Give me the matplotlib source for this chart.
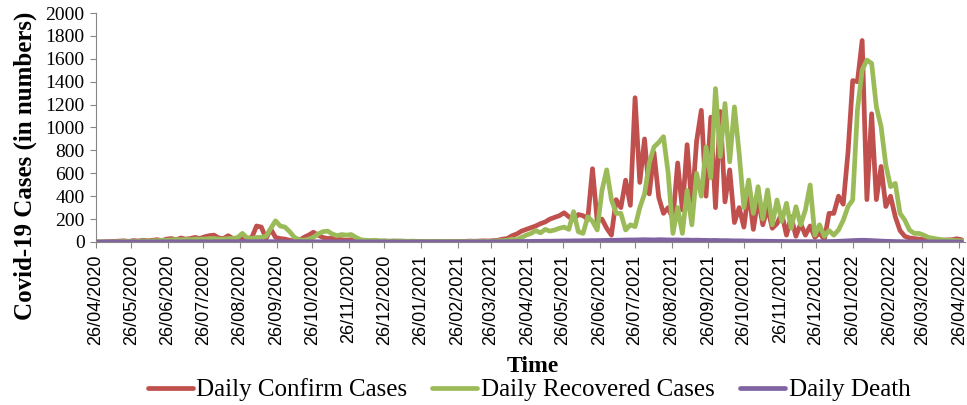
import pandas as pd
import matplotlib
matplotlib.use('Agg')
import matplotlib.pyplot as plt

plt.rcParams['font.family'] = 'Liberation Serif'

# Values, one sample every 4 days from 26/04/2020
start_date = '2020-04-26'
step = '4D'

confirm_cases = [
    0, 0, 2, 3, 5, 8, 10, 5, 12, 8, 15,
    10, 15, 20, 12, 25, 30, 18, 35, 25, 30, 40, 30, 45, 55,
    60, 35, 30, 55, 30, 25, 40, 30, 40, 140, 130, 30, 113, 40, 30, 25, 15, 10, 15, 40,
    60, 85, 60, 40, 30, 35, 25, 20, 15, 20, 10,
    10, 12, 8, 10, 6, 8, 5, 8, 5, 6, 4, 5, 3, 5, 4, 3, 5, 4, 3, 5,
    4, 6, 5, 8, 6, 8, 10, 8, 12, 15,
    25, 30, 55, 70, 95, 110, 125, 140, 160, 175,
    200, 215, 230, 255, 220, 195, 240, 230, 200, 640,
    180, 200, 120, 60, 370, 300, 540, 320, 1260, 520,
    900, 420, 780, 390, 250, 300, 200, 690, 280, 850,
    300, 880, 1150, 400, 1090, 300, 1140, 350, 630, 170,
    300, 130, 450, 110, 380, 150, 300, 120, 160, 250,
    60, 220, 50, 160, 60, 140, 40, 80, 20, 250,
    250, 400, 330, 780, 1410, 1400, 1760, 370, 1120, 370,
    660, 310, 400, 220, 100, 50, 35, 30, 25, 20,
    15, 15, 12, 15, 18, 20, 28, 20,
]

recovered_cases = [
    0, 0, 0, 0, 2, 3, 5, 5, 5, 8, 10, 8,
    10, 12, 15, 15, 18, 20, 20, 22, 20, 25, 25, 25, 30, 30,
    25, 25, 30, 30, 40, 75, 35, 30, 40, 40,
    50, 120, 185, 140, 130, 90, 40, 20, 15, 25,
    40, 70, 90, 95, 70, 55, 65, 60, 65, 40,
    20, 15, 12, 15, 10, 10, 8, 8, 10, 8,
    6, 8, 5, 6, 5, 5, 4, 5, 5, 4,
    4, 5, 4, 5, 5, 5, 5, 6, 8, 10,
    12, 15,
    25, 20, 40, 60, 75, 100, 80, 110, 95, 105,
    120, 130, 110, 265, 90, 75, 220, 180, 105, 450,
    630, 370, 250, 250, 105, 150, 134, 300, 420, 690,
    830, 870, 920, 600, 75, 300, 75, 450, 150, 600,
    400, 830, 560, 1340, 745, 1210, 700, 1180, 774, 300,
    541, 250, 483, 200, 454, 150, 367, 180, 338, 120,
    308, 150, 280, 498, 60, 150, 50, 100, 60, 105,
    190, 308, 367, 1152, 1502, 1589, 1560, 1181, 1007, 672,
    483, 512, 250, 192, 105, 75, 75, 60, 40, 32,
    25, 20, 15, 15, 12, 10,
]

daily_death = [
    0, 0, 0, 0, 0, 0, 0, 0, 1, 0, 1, 1, 0, 1, 1, 1, 2, 1, 1, 2, 2, 1, 2, 2, 1, 2,
    2, 2, 3, 2, 2, 3, 3, 2, 3, 4, 3, 3, 2, 3, 2, 2, 2, 3, 2, 2,
    2, 2, 1, 2, 1, 1, 1, 1, 1, 1, 1, 0, 1, 0, 1, 0, 0, 1, 0, 0,
    0, 0, 1, 0, 0, 0, 0, 0, 0, 0, 0, 0, 1, 0, 1, 1, 1, 1, 2, 2,
    2, 3, 3, 4, 4, 5, 5, 6, 6, 7, 7, 8, 8, 9, 9, 10, 10, 11, 11, 12,
    12, 13, 14, 15, 15, 16, 17, 18, 18, 19, 20, 19, 18, 20, 19, 18, 17, 18, 16, 17,
    15, 16, 15, 14, 13, 14, 12, 12, 11, 10, 10, 9, 8, 8, 7, 7, 6, 6, 5, 5,
    4, 4, 4, 3, 3, 3, 3, 3, 3, 4, 5, 6, 8, 10, 12, 14, 15, 14, 12, 10,
    8, 6, 5, 4, 3, 2, 2, 2, 1, 1, 1, 1, 1, 1, 1, 0, 0, 0,
]

tick_labels = [
    '26/04/2020', '26/05/2020', '26/06/2020', '26/07/2020', '26/08/2020',
    '26/09/2020', '26/10/2020', '26/11/2020', '26/12/2020', '26/01/2021',
    '26/02/2021', '26/03/2021', '26/04/2021', '26/05/2021', '26/06/2021',
    '26/07/2021', '26/08/2021', '26/09/2021', '26/10/2021', '26/11/2021',
    '26/12/2021', '26/01/2022', '26/02/2022', '26/03/2022', '26/04/2022',
]

colors = {'confirm': '#C0504D', 'recovered': '#9BBB59', 'death': '#8064A2'}

fig = plt.figure(figsize=(9.67, 4.05), dpi=100)
ax = fig.add_axes([0.099, 0.4025, 0.899, 0.5654])

series = [
    (confirm_cases, colors['confirm'], 'Daily Confirm Cases'),
    (recovered_cases, colors['recovered'], 'Daily Recovered Cases'),
    (daily_death, colors['death'], 'Daily Death'),
]
for values, color, label in series:
    dates = pd.date_range(start_date, periods=len(values), freq=step)
    ax.plot(dates, values, color=color, lw=3.4, label=label,
            solid_joinstyle='round', solid_capstyle='round')

tick_dates = pd.to_datetime(tick_labels, format='%d/%m/%Y')
ax.set_xlim(pd.Timestamp('2020-04-26'), pd.Timestamp('2022-05-01'))
ax.set_xticks(tick_dates)
ax.set_xticklabels(tick_labels, rotation=90, family='Liberation Sans', fontsize=13)
ax.set_ylim(0, 2000)
ax.set_yticks(range(0, 2001, 200))
ax.tick_params(axis='y', labelsize=14, length=4, pad=4, color='#868686')
ax.tick_params(axis='x', length=4, pad=5, color='#868686')

for side in ['top', 'right']:
    ax.spines[side].set_visible(False)
for side in ['left', 'bottom']:
    ax.spines[side].set_color('#868686')

fig.text(25 / 967, 1 - 166 / 405, 'Covid-19 Cases (in numbers)', rotation=90,
         ha='center', va='center', fontsize=18, fontweight='bold')
fig.text(533 / 967, 1 - 366 / 405, 'Time', ha='center', va='center',
         fontsize=17, fontweight='bold')

fig.legend(loc='center', bbox_to_anchor=(529 / 967, 1 - 390 / 405), ncol=3,
           frameon=False, fontsize=18, handlelength=1.8, handletextpad=0.15,
           columnspacing=1.0, borderaxespad=0)

fig.savefig('out.png', dpi=100)
